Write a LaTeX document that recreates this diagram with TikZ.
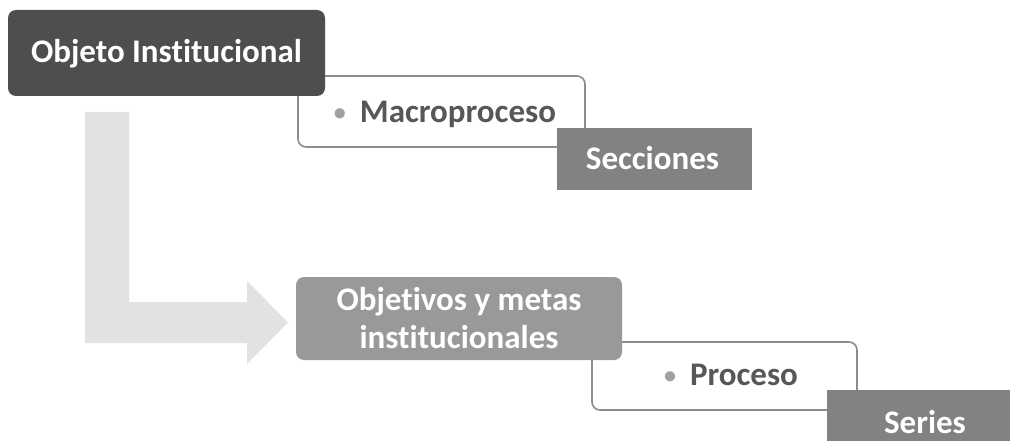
\documentclass[tikz,border=0pt]{standalone}
\usepackage{fontspec}
\setmainfont{Carlito}[Ligatures={NoCommon,NoRare,NoContextual}]
\definecolor{darkbox}{HTML}{4E4E4E}
\definecolor{midbox}{HTML}{828282}
\definecolor{lightbox}{HTML}{999999}
\definecolor{outlinegray}{HTML}{8C8C8C}
\definecolor{txtgray}{HTML}{575757}
\definecolor{bulletgray}{HTML}{A0A0A0}
\definecolor{arrowgray}{HTML}{E2E2E2}
\tikzset{
  roundbox/.style={rectangle, rounded corners=8pt, draw=none, inner sep=0pt},
  squarebox/.style={rectangle, draw=none, inner sep=0pt},
  outlinebox/.style={rectangle, rounded corners=8pt, fill=white, draw=outlinegray, line width=1.6pt, inner sep=0pt},
  lbl/.style={inner sep=0pt, font=\bfseries\fontsize{33}{38}\selectfont},
  whitelbl/.style={lbl, text=white},
  graylbl/.style={lbl, text=txtgray},
}
\newcommand{\mybullet}{{\color{bulletgray}\fontsize{24}{24}\selectfont\raisebox{2pt}{•}}\hspace{14pt}}
\begin{document}
\begin{tikzpicture}[x=1pt,y=1pt]
\clip (0,0) rectangle (1010,-441);
\fill[white] (0,0) rectangle (1010,-441);
% upper group
\node[outlinebox, minimum width=287pt, minimum height=71pt] (macrobox) at (441.5,-111.5) {};
\node[graylbl, anchor=base] (macro) at (445,-123) {\mybullet Macroproceso};
\node[roundbox, fill=darkbox, minimum width=317pt, minimum height=86pt] (objbox) at (166.5,-53) {};
\node[whitelbl, anchor=base] (obj) at (166.5,-63) {Objeto Institucional};
\node[squarebox, fill=midbox, minimum width=195pt, minimum height=62pt] (secbox) at (654.5,-159) {};
\node[whitelbl, anchor=base] (sec) at (652.5,-170) {Secciones};
% bent arrow
\fill[arrowgray] (85,-112) -- (129,-112) -- (129,-302) -- (247,-302) -- (247,-281) -- (288,-322.5) -- (247,-364) -- (247,-343) -- (85,-343) -- cycle;
% lower group
\node[outlinebox, minimum width=265pt, minimum height=68pt] (procbox) at (724.5,-376) {};
\node[graylbl, anchor=base] (proc) at (731,-385) {\mybullet Proceso};
\node[roundbox, fill=lightbox, minimum width=326pt, minimum height=83pt] (objetbox) at (459,-318.5) {};
\node[whitelbl, align=center] (objet) at (459,-318.5) {Objetivos y metas\\institucionales};
\node[squarebox, fill=midbox, minimum width=196pt, minimum height=62pt] (serbox) at (925,-421) {};
\node[whitelbl, anchor=base] (ser) at (925,-433) {Series};
\end{tikzpicture}
\end{document}
